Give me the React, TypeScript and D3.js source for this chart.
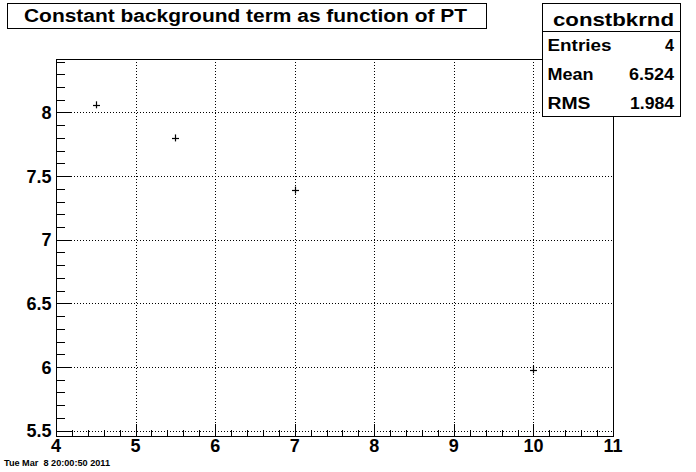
import * as d3 from 'd3';
import { useRef, useEffect } from 'react';

const ptValues = [4.5, 5.5, 7, 10];
const bkgValues = [8.06, 7.8, 7.39, 5.98];
const bkgErrors = [0.01, 0.01, 0.01, 0.03];
const xTicks = [4, 5, 6, 7, 8, 9, 10, 11];
const yTicks = [5.5, 6, 6.5, 7, 7.5, 8];
const statNames = ['Entries', 'Mean', 'RMS'];
const statValues = ['4', '6.524', '1.984'];

export default function App() {
  const svgRef = useRef(null);

  useEffect(() => {
    const width = 696;
    const height = 472;
    const left = 56, right = 613, top = 59, bottom = 436;
    const font = '"Liberation Sans", Arial, Helvetica, sans-serif';

    const svg = d3.select(svgRef.current)
      .attr('width', width)
      .attr('height', height)
      .style('font-family', font);
    svg.selectAll('*').remove();

    svg.append('rect').attr('width', width).attr('height', height).attr('fill', 'white');

    const x = d3.scaleLinear().domain([4, 11]).range([left, right]);
    const y = d3.scaleLinear().domain([5.458, 8.42]).range([bottom, top]);

    // dotted grid
    const grid = svg.append('g')
      .attr('stroke', 'black')
      .attr('stroke-width', 1)
      .attr('stroke-dasharray', '1,2');
    grid.selectAll('.gx')
      .data(xTicks.slice(1, -1))
      .enter().append('line')
      .attr('x1', (d) => Math.round(x(d)) + 0.5)
      .attr('x2', (d) => Math.round(x(d)) + 0.5)
      .attr('y1', top)
      .attr('y2', bottom);
    grid.selectAll('.gy')
      .data(yTicks)
      .enter().append('line')
      .attr('y1', (d) => Math.round(y(d)) + 0.5)
      .attr('y2', (d) => Math.round(y(d)) + 0.5)
      .attr('x1', left)
      .attr('x2', right);

    // frame
    svg.append('rect')
      .attr('x', left + 0.5)
      .attr('y', top + 0.5)
      .attr('width', right - left)
      .attr('height', bottom - top)
      .attr('fill', 'none')
      .attr('stroke', 'black')
      .attr('stroke-width', 1);

    // x ticks, drawn inward
    const xMinor = d3.range(4, 11.001, 0.2);
    svg.append('g').selectAll('line')
      .data(xMinor)
      .enter().append('line')
      .attr('x1', (d) => Math.round(x(d)) + 0.5)
      .attr('x2', (d) => Math.round(x(d)) + 0.5)
      .attr('y1', bottom)
      .attr('y2', (d) => bottom - (Math.abs(d - Math.round(d)) < 1e-6 ? 12 : 6))
      .attr('stroke', 'black');

    // y ticks, drawn inward
    const yMinor = d3.range(5.5, 8.42, 0.1);
    svg.append('g').selectAll('line')
      .data(yMinor)
      .enter().append('line')
      .attr('y1', (d) => Math.round(y(d)) + 0.5)
      .attr('y2', (d) => Math.round(y(d)) + 0.5)
      .attr('x1', left)
      .attr('x2', (d) => left + (Math.abs(d * 2 - Math.round(d * 2)) < 1e-6 ? 16 : 9))
      .attr('stroke', 'black');

    // tick labels
    svg.append('g').selectAll('text')
      .data(xTicks)
      .enter().append('text')
      .attr('x', (d) => x(d))
      .attr('y', 452)
      .attr('text-anchor', 'middle')
      .attr('font-size', 18)
      .attr('font-weight', 'bold')
      .text((d) => String(d));
    svg.append('g').selectAll('text')
      .data(yTicks)
      .enter().append('text')
      .attr('x', 51.5)
      .attr('y', (d) => y(d) + 6.5)
      .attr('text-anchor', 'end')
      .attr('font-size', 18)
      .attr('font-weight', 'bold')
      .text((d) => String(d));

    // markers with error bars
    const pts = ptValues.map((v, i) => ({ x: v, y: bkgValues[i], e: bkgErrors[i] }));
    const mk = svg.append('g').attr('stroke', 'black').attr('stroke-width', 1.2);
    mk.selectAll('.h')
      .data(pts)
      .enter().append('line')
      .attr('x1', (d) => Math.round(x(d.x)) - 3)
      .attr('x2', (d) => Math.round(x(d.x)) + 4)
      .attr('y1', (d) => Math.round(y(d.y)) + 0.5)
      .attr('y2', (d) => Math.round(y(d.y)) + 0.5);
    mk.selectAll('.v')
      .data(pts)
      .enter().append('line')
      .attr('x1', (d) => Math.round(x(d.x)) + 0.5)
      .attr('x2', (d) => Math.round(x(d.x)) + 0.5)
      .attr('y1', (d) => Math.min(y(d.y + d.e), y(d.y) - 3.5))
      .attr('y2', (d) => Math.max(y(d.y - d.e), y(d.y) + 3.5));

    // title box
    svg.append('rect')
      .attr('x', 7.5).attr('y', 3.5).attr('width', 479).attr('height', 25)
      .attr('fill', 'white').attr('stroke', 'black');
    svg.append('text')
      .attr('x', 24).attr('y', 22)
      .attr('font-size', 17.5).attr('font-weight', 'bold')
      .attr('textLength', 443).attr('lengthAdjust', 'spacingAndGlyphs')
      .text('Constant background term as function of PT');

    // stats box
    const sx = 542.5, sw = 138, sy = 3.5, sh = 113;
    svg.append('rect')
      .attr('x', sx).attr('y', sy).attr('width', sw).attr('height', sh)
      .attr('fill', 'white').attr('stroke', 'black');
    svg.append('line')
      .attr('x1', sx).attr('x2', sx + sw).attr('y1', 31.5).attr('y2', 31.5)
      .attr('stroke', 'black');
    svg.append('text')
      .attr('x', 553).attr('y', 26)
      .attr('font-size', 19).attr('font-weight', 'bold')
      .attr('textLength', 121).attr('lengthAdjust', 'spacingAndGlyphs')
      .text('constbkrnd');
    const statY = d3.scalePoint().domain(statNames).range([51, 109]);
    const nameWidths = [64, 46, 43];
    svg.append('g').selectAll('text')
      .data(statNames)
      .enter().append('text')
      .attr('x', 547.5).attr('y', (d) => statY(d))
      .attr('font-size', 16).attr('font-weight', 'bold')
      .attr('textLength', (d, i) => nameWidths[i]).attr('lengthAdjust', 'spacingAndGlyphs')
      .text((d) => d);
    const valueWidths = [9, 45, 44];
    svg.append('g').selectAll('text')
      .data(statValues)
      .enter().append('text')
      .attr('x', (d, i) => 674 - valueWidths[i]).attr('y', (d, i) => statY(statNames[i]))
      .attr('font-size', 16).attr('font-weight', 'bold')
      .attr('textLength', (d, i) => valueWidths[i]).attr('lengthAdjust', 'spacingAndGlyphs')
      .text((d) => d);

    // date stamp
    svg.append('text')
      .attr('x', 4).attr('y', 466)
      .attr('font-size', 9).attr('font-weight', 'bold')
      .attr('textLength', 106).attr('lengthAdjust', 'spacingAndGlyphs')
      .style('white-space', 'pre')
      .text('Tue Mar  8 20:00:50 2011');
  }, []);

  return (
    <div style={{ position: 'absolute', left: 0, top: 0 }}>
      <svg ref={svgRef} style={{ display: 'block' }}></svg>
    </div>
  );
}
